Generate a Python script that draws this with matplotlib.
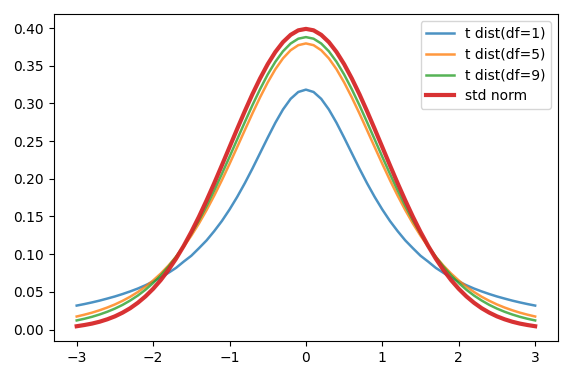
import numpy as np
import matplotlib
matplotlib.use('Agg')
import matplotlib.pyplot as plt

# ── Valores (x de -3 a 3, passo 0.1) ──────────────────────────────────────────
x = np.linspace(-3, 3, 61)

t_df1 = [0.0318, 0.0338, 0.0360, 0.0384, 0.0411, 0.0439, 0.0471, 0.0506,
         0.0544, 0.0588, 0.0637, 0.0690, 0.0752, 0.0818, 0.0901, 0.0979,
         0.1079, 0.1183, 0.1306, 0.1440, 0.1592, 0.1759, 0.1941, 0.2136,
         0.2341, 0.2546, 0.2744, 0.2920, 0.3061, 0.3152, 0.3183,
         0.3152, 0.3061, 0.2920, 0.2744, 0.2546, 0.2341, 0.2136, 0.1941,
         0.1759, 0.1592, 0.1440, 0.1306, 0.1183, 0.1079, 0.0979, 0.0901,
         0.0818, 0.0752, 0.0690, 0.0637, 0.0588, 0.0544, 0.0506, 0.0471,
         0.0439, 0.0411, 0.0384, 0.0360, 0.0338, 0.0318]

t_df5 = [0.0173, 0.0197, 0.0224, 0.0256, 0.0292, 0.0333, 0.0381, 0.0435,
         0.0498, 0.0569, 0.0651, 0.0743, 0.0848, 0.0966, 0.1098, 0.1245,
         0.1407, 0.1585, 0.1777, 0.1981, 0.2197, 0.2420, 0.2645, 0.2868,
         0.3081, 0.3279, 0.3454, 0.3598, 0.3706, 0.3773, 0.3796,
         0.3773, 0.3706, 0.3598, 0.3454, 0.3279, 0.3081, 0.2868, 0.2645,
         0.2420, 0.2197, 0.1981, 0.1777, 0.1585, 0.1407, 0.1245, 0.1098,
         0.0966, 0.0848, 0.0743, 0.0651, 0.0569, 0.0498, 0.0435, 0.0381,
         0.0333, 0.0292, 0.0256, 0.0224, 0.0197, 0.0173]

t_df9 = [0.0121, 0.0143, 0.0169, 0.0200, 0.0236, 0.0278, 0.0327, 0.0385,
         0.0451, 0.0528, 0.0617, 0.0719, 0.0834, 0.0964, 0.1110, 0.1272,
         0.1449, 0.1641, 0.1847, 0.2065, 0.2291, 0.2522, 0.2752, 0.2977,
         0.3189, 0.3384, 0.3553, 0.3692, 0.3795, 0.3859, 0.3880,
         0.3859, 0.3795, 0.3692, 0.3553, 0.3384, 0.3189, 0.2977, 0.2752,
         0.2522, 0.2291, 0.2065, 0.1847, 0.1641, 0.1449, 0.1272, 0.1110,
         0.0964, 0.0834, 0.0719, 0.0617, 0.0528, 0.0451, 0.0385, 0.0327,
         0.0278, 0.0236, 0.0200, 0.0169, 0.0143, 0.0121]

std_norm = [0.0044, 0.0060, 0.0079, 0.0104, 0.0136, 0.0175, 0.0224, 0.0283,
            0.0355, 0.0440, 0.0540, 0.0656, 0.0790, 0.0940, 0.1109, 0.1295,
            0.1497, 0.1714, 0.1942, 0.2179, 0.2420, 0.2661, 0.2897, 0.3123,
            0.3332, 0.3521, 0.3683, 0.3814, 0.3910, 0.3970, 0.3989,
            0.3970, 0.3910, 0.3814, 0.3683, 0.3521, 0.3332, 0.3123, 0.2897,
            0.2661, 0.2420, 0.2179, 0.1942, 0.1714, 0.1497, 0.1295, 0.1109,
            0.0940, 0.0790, 0.0656, 0.0540, 0.0440, 0.0355, 0.0283, 0.0224,
            0.0175, 0.0136, 0.0104, 0.0079, 0.0060, 0.0044]

# ── Plot ──────────────────────────────────────────────────────────────────────
fig, ax = plt.subplots(figsize=(5.66, 3.79), dpi=100)
fig.subplots_adjust(left=0.095, right=0.986, top=0.963, bottom=0.10)

ax.plot(x, t_df1, color='tab:blue', linewidth=1.8, alpha=0.8, label='t dist(df=1)')
ax.plot(x, t_df5, color='tab:orange', linewidth=1.8, alpha=0.8, label='t dist(df=5)')
ax.plot(x, t_df9, color='tab:green', linewidth=1.8, alpha=0.8, label='t dist(df=9)')
ax.plot(x, std_norm, color='tab:red', linewidth=3, alpha=0.95, label='std norm')

ax.set_yticks(np.arange(0, 0.41, 0.05))
ax.legend(loc='upper right')

plt.savefig('out.png', dpi=100)
